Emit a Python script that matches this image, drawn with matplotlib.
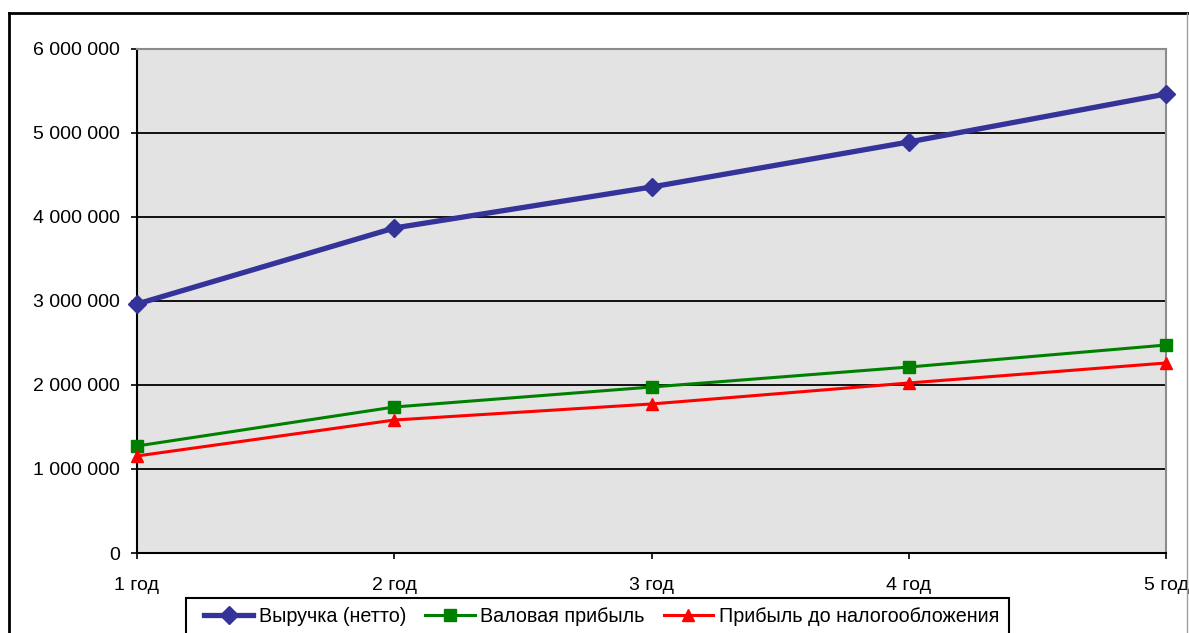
import matplotlib.pyplot as plt
from matplotlib.lines import Line2D
from matplotlib.patches import Rectangle

plt.rcParams["font.family"] = ["Liberation Sans", "DejaVu Sans"]

# данные по годам
years = ["1 год", "2 год", "3 год", "4 год", "5 год"]
revenue = [2964000, 3869000, 4357000, 4893000, 5464000]
gross_profit = [1274000, 1738000, 1976000, 2214000, 2476000]
pretax_profit = [1155000, 1583000, 1774000, 2024000, 2262000]
yticks = [0, 1000000, 2000000, 3000000, 4000000, 5000000, 6000000]

W, H = 1189, 633
fig = plt.figure(figsize=(W / 100, H / 100), dpi=100)
ax = fig.add_axes([137 / W, 1 - 553 / H, (1166 - 137) / W, (553 - 49) / H])
ax.set_facecolor("#e3e3e3")

x = list(range(len(years)))
ax.plot(x, revenue, color="#333399", lw=3.8, marker="D", ms=9,
        label="Выручка (нетто)", clip_on=False, zorder=5)
ax.plot(x, gross_profit, color="#008000", lw=2.2, marker="s", ms=8,
        label="Валовая прибыль", clip_on=False, zorder=5)
ax.plot(x, pretax_profit, color="#ff0000", lw=2.2, marker="^", ms=9,
        label="Прибыль до налогообложения", clip_on=False, zorder=5)

ax.set_xlim(0, len(years) - 1)
ax.set_ylim(0, 6000000)
ax.set_xticks(x)
ax.set_xticklabels(years)
ax.set_yticks(yticks)
ax.set_yticklabels([f"{v:,}".replace(",", " ") for v in yticks])
ax.yaxis.grid(True, color="black", lw=1.3)
ax.set_axisbelow(True)
ax.tick_params(axis="both", labelsize=14, length=4.3, width=1.2, color="black")
ax.tick_params(axis="x", pad=13)
ax.tick_params(axis="y", pad=8)

for side in ["left", "bottom"]:
    ax.spines[side].set_color("black")
    ax.spines[side].set_linewidth(1.5)
for side in ["top", "right"]:
    ax.spines[side].set_color("#8c8c8c")
    ax.spines[side].set_linewidth(1.5)

# рамка всей диаграммы
fig.add_artist(Line2D([9 / W, 1], [1 - 13 / H, 1 - 13 / H], color="black", lw=2))
fig.add_artist(Line2D([9 / W, 9 / W], [0, 1 - 13 / H], color="black", lw=2))
fig.add_artist(Line2D([1187 / W, 1187 / W], [0, 1 - 13 / H], color="#a0a0a0", lw=1))

# легенда
fig.add_artist(Rectangle((186 / W, -20 / H), (1009 - 186) / W, (35 + 20) / H,
                         transform=fig.transFigure, facecolor="white",
                         edgecolor="black", lw=1.5))
fig.legend(loc="center left", bbox_to_anchor=(196 / W, 1 - 616 / H), ncol=3,
           frameon=False, fontsize=14.2, handlelength=2.5, handletextpad=0.3,
           columnspacing=0.95, borderaxespad=0)

fig.savefig("out.png", dpi=100)
